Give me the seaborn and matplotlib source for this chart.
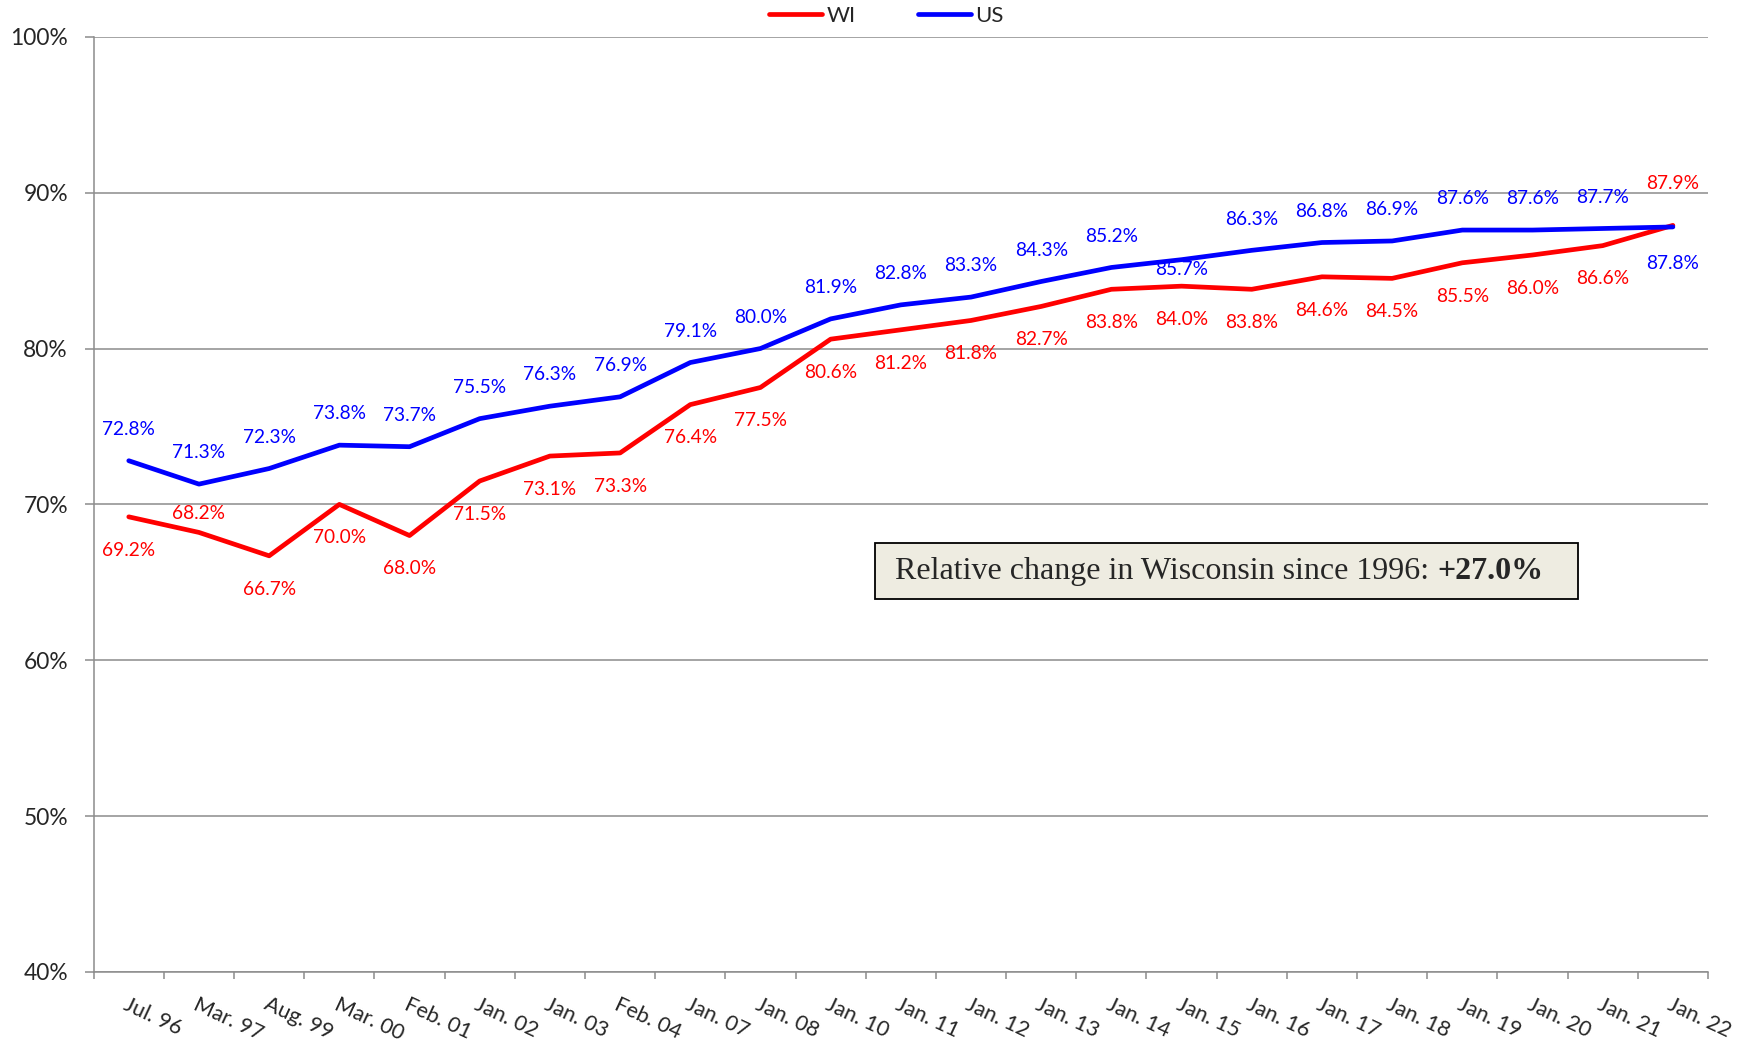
import matplotlib
matplotlib.use("Agg")
import matplotlib.pyplot as plt
from matplotlib.patches import Rectangle
from matplotlib.ticker import FixedLocator, PercentFormatter
import pandas as pd
import seaborn as sns

# survey dates (x categories)
DATES = ["Jul. 96", "Mar. 97", "Aug. 99", "Mar. 00", "Feb. 01", "Jan. 02",
         "Jan. 03", "Feb. 04", "Jan. 07", "Jan. 08", "Jan. 10", "Jan. 11",
         "Jan. 12", "Jan. 13", "Jan. 14", "Jan. 15", "Jan. 16", "Jan. 17",
         "Jan. 18", "Jan. 19", "Jan. 20", "Jan. 21", "Jan. 22"]
# shares in percent
WI = [69.2, 68.2, 66.7, 70.0, 68.0, 71.5, 73.1, 73.3, 76.4, 77.5, 80.6, 81.2,
      81.8, 82.7, 83.8, 84.0, 83.8, 84.6, 84.5, 85.5, 86.0, 86.6, 87.9]
US = [72.8, 71.3, 72.3, 73.8, 73.7, 75.5, 76.3, 76.9, 79.1, 80.0, 81.9, 82.8,
      83.3, 84.3, 85.2, 85.7, 86.3, 86.8, 86.9, 87.6, 87.6, 87.7, 87.8]
SERIES = ["WI", "US"]
NOTE = "Relative change in Wisconsin since 1996: "
NOTE_VALUE = "+27.0%"

COLORS = {"WI": "#FF0000", "US": "#0000FF"}
GRID = "#8C8C8C"
# vertical label offset in points (+ = above the point)
DEFAULT_OFF = {"WI": -24, "US": 22.5}
LABEL_OFF = {("WI", 1): 13.5, ("WI", 22): 30, ("US", 15): -7, ("US", 22): -26.5}

sns.set_style("white")
plt.rcParams["font.family"] = ["Lato", "DejaVu Sans"]

df = pd.DataFrame({
    "pos": list(range(len(DATES))) * 2,
    "value": [v / 100 for v in WI + US],
    "series": ["WI"] * len(WI) + ["US"] * len(US),
})

fig = plt.figure(figsize=(17.48, 10.42), dpi=100)
ax = fig.add_axes([0.0536, 0.0672, 0.9235, 0.8975])

sns.lineplot(data=df, x="pos", y="value", hue="series", hue_order=SERIES,
             palette=COLORS, linewidth=3.4, ax=ax, legend=True)

# data labels
for row in df.itertuples(index=False):
    off = LABEL_OFF.get((row.series, row.pos), DEFAULT_OFF[row.series])
    ax.annotate(f"{row.value * 100:.1f}%", (row.pos, row.value),
                xytext=(0, off), textcoords="offset points",
                ha="center", va="center", fontsize=13.8, color=COLORS[row.series])

ax.set_xlim(-0.5, len(DATES) - 0.5)
ax.set_ylim(0.4, 1.0)
ax.set_xlabel("")
ax.set_ylabel("")

ax.yaxis.set_major_locator(FixedLocator([0.4, 0.5, 0.6, 0.7, 0.8, 0.9, 1.0]))
ax.yaxis.set_major_formatter(PercentFormatter(1.0, decimals=0))
ax.yaxis.grid(True, color=GRID, linewidth=1.1)
ax.tick_params(axis="y", which="major", left=True, length=6.5, width=1.1,
               color=GRID, pad=12, labelsize=16.4)

ax.set_xticks(range(len(DATES)))
ax.set_xticklabels(DATES, rotation=-25, ha="left", va="top",
                   rotation_mode="anchor", fontsize=15.5)
ax.xaxis.set_minor_locator(FixedLocator([i - 0.5 for i in range(len(DATES) + 1)]))
ax.tick_params(axis="x", which="major", length=0, pad=16)
ax.tick_params(axis="x", which="minor", bottom=True, length=5, width=1.1, color=GRID)

for side in ["top", "right"]:
    ax.spines[side].set_visible(False)
for side in ["left", "bottom"]:
    ax.spines[side].set_color(GRID)
    ax.spines[side].set_linewidth(1.1)

# legend on top
handles, labels = ax.get_legend_handles_labels()
ax.get_legend().remove()
leg = fig.legend(handles, labels, loc="center", bbox_to_anchor=(0.507, 0.985),
                 ncol=2, frameon=False, fontsize=16, handlelength=2.4,
                 handletextpad=0.2, columnspacing=2.8)
for line in leg.get_lines():
    line.set_linewidth(3.4)
    line.set_solid_capstyle("round")

# note box
ax.add_patch(Rectangle((0.484, 0.3988), 0.4355, 0.0599, transform=ax.transAxes,
                       facecolor="#EEECE1", edgecolor="black", linewidth=1.3, zorder=5))
t1 = ax.text(0.4964, 0.4287, NOTE, transform=ax.transAxes, ha="left", va="center",
             family=["Liberation Serif"], fontsize=23, zorder=6)
ax.annotate(NOTE_VALUE, xy=(1, 0), xycoords=t1, ha="left", va="bottom",
            family=["Liberation Serif"], fontsize=23, weight="bold", zorder=6)

fig.savefig("out.png", dpi=100)
